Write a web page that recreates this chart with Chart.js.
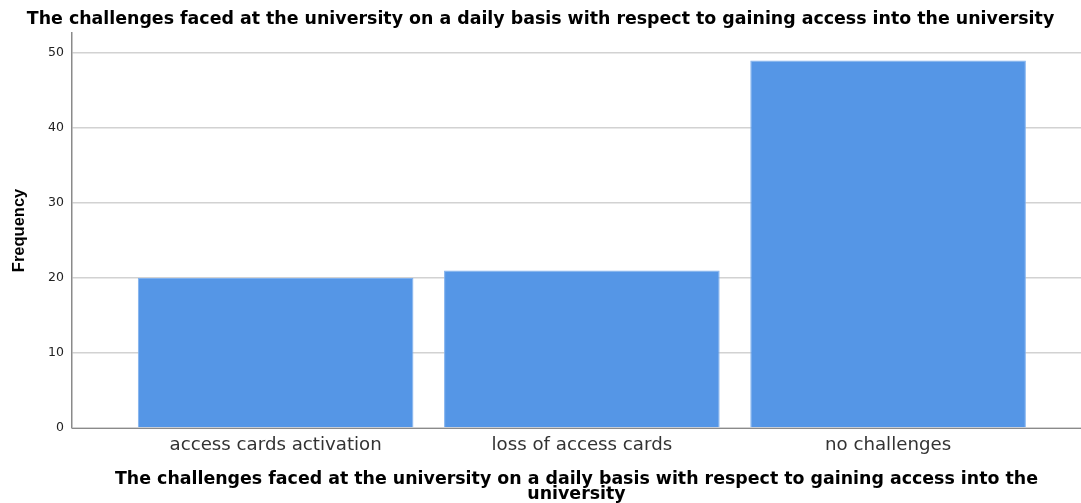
<!DOCTYPE html>
<html>
<head>
<meta charset="utf-8">
<script src="https://cdn.jsdelivr.net/npm/chart.js@4/dist/chart.umd.min.js"></script>
<style>
  html, body { margin: 0; padding: 0; background: #fff; }
  #wrap { width: 1081px; height: 503px; }
</style>
</head>
<body>
<div id="wrap"><canvas id="chart"></canvas></div>
<script>
// data
const categories = ["access cards activation", "loss of access cards", "no challenges"];
const frequency = [20, 21, 49];
const yTicks = [0, 10, 20, 30, 40, 50];

const chartTitle = "The challenges faced at the university on a daily basis with respect to gaining access into the university";
const xTitle = ["The challenges faced at the university on a daily basis with respect to gaining access into the", "university"];
const yTitle = "Frequency";

const WIDE = "'DejaVu Sans', Verdana, sans-serif";
const ARIAL = "'Liberation Sans', Arial, sans-serif";

// bars sit at x = 0,1,2 on a linear scale so the left/right gaps match the picture
const points = frequency.map((v, i) => ({ x: i, y: v }));

new Chart(document.getElementById("chart"), {
    type: "bar",
    data: {
        datasets: [{
            label: yTitle,
            data: points,
            backgroundColor: "#5596e6",
            borderColor: "#7fb0ee",
            borderWidth: 1,
            categoryPercentage: 0.9,
            barPercentage: 1.0
        }]
    },
    options: {
        responsive: true,
        maintainAspectRatio: false,
        animation: false,
        layout: { padding: 0 },
        plugins: {
            legend: { display: false },
            tooltip: { enabled: false },
            title: {
                display: true,
                text: chartTitle,
                color: "#000",
                font: { family: WIDE, size: 17.4, weight: "bold" },
                padding: { top: 9, bottom: 3 }
            }
        },
        scales: {
            x: {
                type: "linear",
                offset: false,
                min: -0.665,
                max: 2.63,
                afterFit: s => { s.height = 75; },
                afterBuildTicks: s => { s.ticks = categories.map((c, i) => ({ value: i })); },
                ticks: {
                    color: "#333",
                    font: { family: WIDE, size: 18.2 },
                    padding: 6,
                    maxRotation: 0,
                    autoSkip: false,
                    callback: v => categories[v]
                },
                grid: { display: false, drawTicks: false },
                border: { display: true, color: "#8a8a8a", width: 1 },
                title: {
                    display: true,
                    text: xTitle,
                    color: "#000",
                    font: { family: WIDE, size: 17.4, weight: "bold", lineHeight: 0.86 },
                    padding: { top: 0, bottom: 1 }
                }
            },
            y: {
                min: 0,
                max: 52.67,
                afterFit: s => { s.width = 72; },
                afterBuildTicks: s => { s.ticks = yTicks.map(v => ({ value: v })); },
                ticks: {
                    color: "#222",
                    font: { family: WIDE, size: 12.5 },
                    padding: 8
                },
                grid: {
                    color: "#d2d2d2",
                    lineWidth: 1.5,
                    drawTicks: false
                },
                border: { display: true, color: "#8a8a8a", width: 1.5 },
                title: {
                    display: true,
                    text: yTitle,
                    color: "#000",
                    font: { family: ARIAL, size: 16.5, weight: "bold" },
                    padding: { top: 10, bottom: 0 }
                }
            }
        }
    }
});
</script>
</body>
</html>
